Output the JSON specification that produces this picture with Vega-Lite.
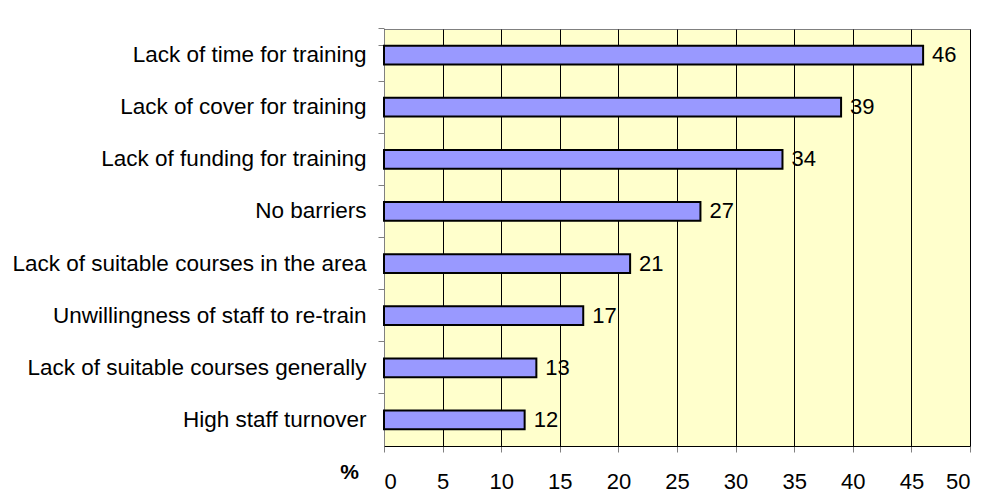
{
  "$schema": "https://vega.github.io/schema/vega-lite/v6.json",
  "width": 586,
  "height": 417,
  "padding": {"left": 12, "top": 18, "right": 10, "bottom": 5},
  "background": "white",
  "config": {
    "font": "Liberation Sans",
    "view": {"fill": "#FFFFCC", "stroke": "#808080", "strokeWidth": 1}
  },
  "data": {
    "values": [
      {"reason": "Lack of time for training", "pct": 46},
      {"reason": "Lack of cover for training", "pct": 39},
      {"reason": "Lack of funding for training", "pct": 34},
      {"reason": "No barriers", "pct": 27},
      {"reason": "Lack of suitable courses in the area", "pct": 21},
      {"reason": "Unwillingness of staff to re-train", "pct": 17},
      {"reason": "Lack of suitable courses generally", "pct": 13},
      {"reason": "High staff turnover", "pct": 12}
    ]
  },
  "encoding": {
    "y": {
      "field": "reason",
      "type": "nominal",
      "sort": null,
      "scale": {"paddingInner": 0.64, "paddingOuter": 0.32},
      "axis": {
        "title": null,
        "bandPosition": -0.889,
        "tickExtra": true,
        "labelFontSize": 22.5,
        "labelLimit": 0,
        "labelColor": "black",
        "labelPadding": 12,
        "tickSize": 6,
        "tickColor": "#808080",
        "domainColor": "#808080",
        "grid": false
      }
    },
    "x": {
      "field": "pct",
      "type": "quantitative",
      "scale": {"domain": [0, 50], "nice": false},
      "axis": {
        "values": [0, 5, 10, 15, 20, 25, 30, 35, 40, 45, 50],
        "title": "%",
        "titleFontSize": 21,
        "titleFontWeight": "bold",
        "titleAnchor": "start",
        "titleAlign": "center",
        "titleX": -35,
        "titleY": 26,
        "titleBaseline": "middle",
        "labelFontSize": 22,
        "labelColor": "black",
        "labelPadding": 29,
        "labelBaseline": "middle",
        "tickSize": 6,
        "tickColor": "#808080",
        "domainColor": "#000000",
        "grid": true,
        "gridColor": "#000000",
        "gridOpacity": 1,
        "gridWidth": 1
      }
    }
  },
  "layer": [
    {
      "mark": {"type": "bar", "color": "#9999FF", "stroke": "black", "strokeWidth": 2}
    },
    {
      "mark": {"type": "text", "align": "left", "baseline": "middle", "dx": 9, "fontSize": 22, "color": "black"},
      "encoding": {"text": {"field": "pct", "type": "quantitative"}}
    }
  ]
}
